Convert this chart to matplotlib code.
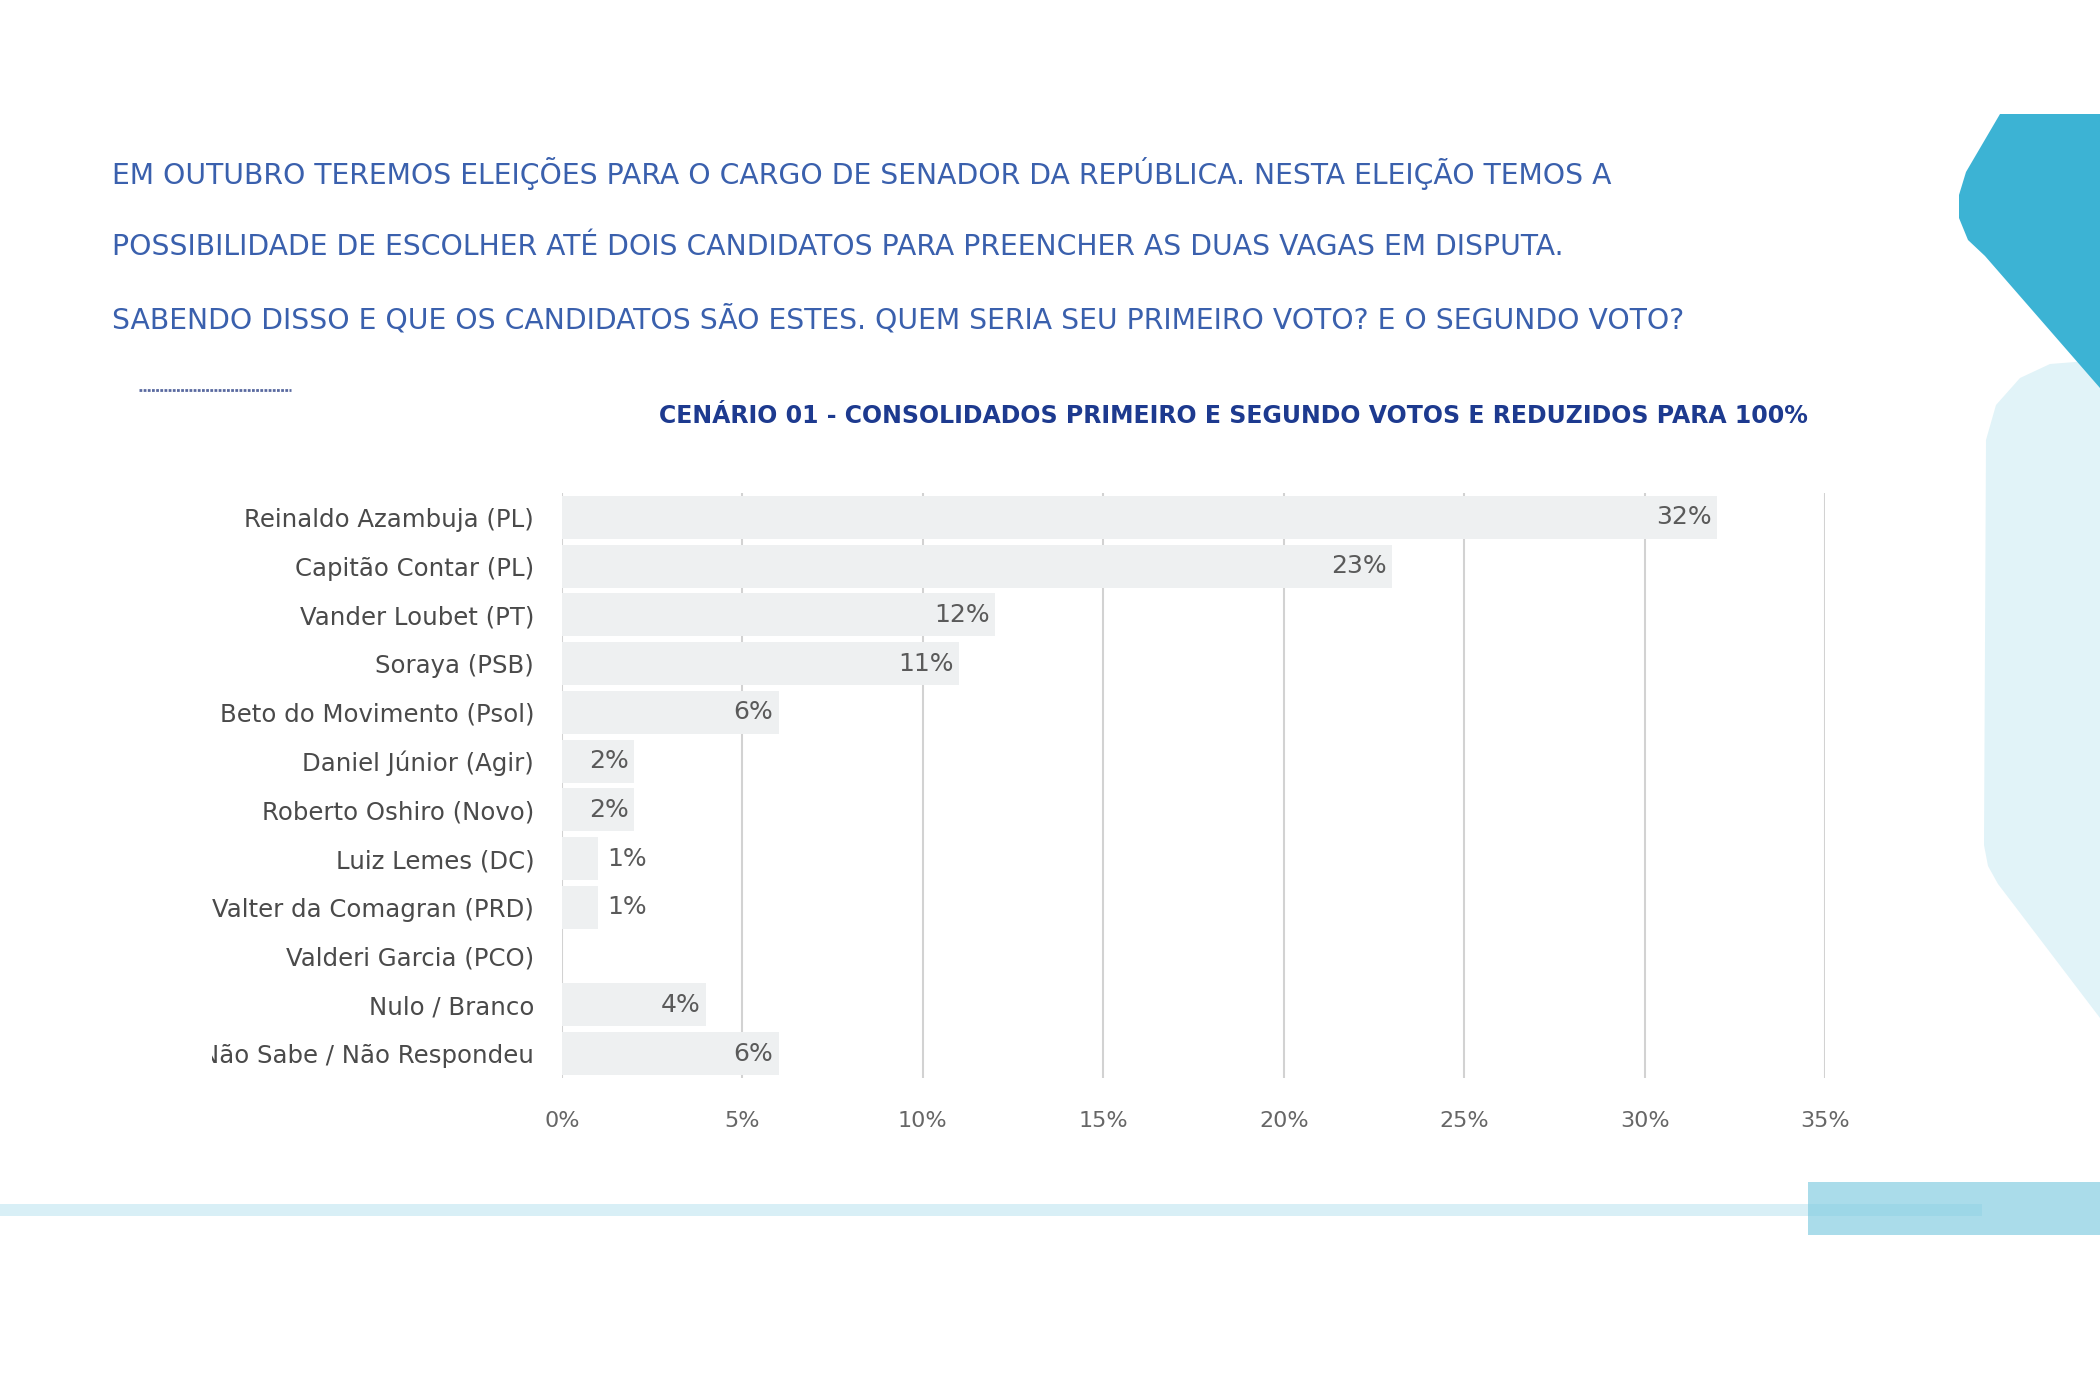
import matplotlib
matplotlib.use("Agg")
import matplotlib.pyplot as plt
from matplotlib.patches import Polygon, Rectangle
from matplotlib.transforms import Bbox, TransformedBbox

plt.rcParams["font.family"] = ["DejaVu Sans"]

# Données du graphique
candidats = [
    "Reinaldo Azambuja (PL)",
    "Capitão Contar (PL)",
    "Vander Loubet (PT)",
    "Soraya (PSB)",
    "Beto do Movimento (Psol)",
    "Daniel Júnior (Agir)",
    "Roberto Oshiro (Novo)",
    "Luiz Lemes (DC)",
    "Valter da Comagran (PRD)",
    "Valderi Garcia (PCO)",
    "Nulo / Branco",
    "Não Sabe / Não Respondeu",
]
pourcentages = [32, 23, 12, 11, 6, 2, 2, 1, 1, 0, 4, 6]
ticks_x = [0, 5, 10, 15, 20, 25, 30, 35]

W, H = 2100, 1400
fig = plt.figure(figsize=(21, 14), dpi=100)
fig.patch.set_facecolor("white")


def fx(px):
    return px / W


def fy(py):
    return 1 - py / H


# ===== Formes décoratives =====
forme_foncee = [(2000, 114), (2100, 114), (2100, 388), (1985, 256), (1968, 240),
                (1959, 218), (1959, 195), (1966, 172)]
forme_claire = [(1986, 440), (1996, 405), (2020, 378), (2050, 364), (2100, 360),
                (2100, 1018), (1998, 884), (1988, 866), (1984, 845)]
fig.patches.append(Polygon([(fx(x), fy(y)) for x, y in forme_claire], closed=True,
                           transform=fig.transFigure, facecolor="#e1f3f8", edgecolor="none"))
fig.patches.append(Polygon([(fx(x), fy(y)) for x, y in forme_foncee], closed=True,
                           transform=fig.transFigure, facecolor="#3cb3d4", edgecolor="none"))
fig.patches.append(Rectangle((fx(1808), fy(1235)), fx(292), 53 / H,
                             transform=fig.transFigure, facecolor="#aadcea", edgecolor="none"))
fig.patches.append(Rectangle((0, fy(1216)), fx(1982), 12 / H,
                             transform=fig.transFigure, facecolor="#7fcde3", alpha=0.3,
                             edgecolor="none"))

# ===== Textes =====
lignes_titre = [
    "EM OUTUBRO TEREMOS ELEIÇÕES PARA O CARGO DE SENADOR DA REPÚBLICA. NESTA ELEIÇÃO TEMOS A",
    "POSSIBILIDADE DE ESCOLHER ATÉ DOIS CANDIDATOS PARA PREENCHER AS DUAS VAGAS EM DISPUTA.",
    "SABENDO DISSO E QUE OS CANDIDATOS SÃO ESTES. QUEM SERIA SEU PRIMEIRO VOTO? E O SEGUNDO VOTO?",
]
for i, ligne in enumerate(lignes_titre):
    fig.text(fx(112), fy(174 + 73 * i), ligne, color="#3a60ad", fontsize=20.3,
             ha="left", va="center")

fig.lines.append(plt.Line2D([fx(139), fx(291)], [fy(390), fy(390)], transform=fig.transFigure,
                            color="#5a6aa0", linewidth=2, linestyle=(0, (1, 0.5))))

fig.text(fx(1808), fy(416), "CENÁRIO 01 - CONSOLIDADOS PRIMEIRO E SEGUNDO VOTOS E REDUZIDOS PARA 100%",
         color="#1d3a8f", fontsize=17, fontweight="bold", ha="right", va="center")

# ===== Graphique =====
ax = fig.add_axes([fx(562), fy(1078), fx(1825 - 562), (1078 - 493) / H])
positions = range(len(candidats))
ax.barh(positions, pourcentages, height=0.88, color="#eef0f1", zorder=2)
ax.set_ylim(len(candidats) - 0.5, -0.5)
ax.set_xlim(0, 35)

for pos, val in zip(positions, pourcentages):
    if val == 0:
        continue
    if val >= 2:
        ax.text(val - 0.15, pos, f"{val}%", ha="right", va="center",
                color="#5a5a5a", fontsize=18, zorder=3)
    else:
        ax.text(val + 0.25, pos, f"{val}%", ha="left", va="center",
                color="#5a5a5a", fontsize=18, zorder=3)

ax.set_xticks(ticks_x)
ax.set_xticklabels([f"{t}%" for t in ticks_x], color="#666666", fontsize=16)
ax.set_yticks(list(positions))
ax.set_yticklabels(candidats, color="#4a4a4a", fontsize=17.6)
ax.tick_params(axis="both", length=0)
ax.tick_params(axis="x", pad=24)
ax.tick_params(axis="y", pad=20)
ax.xaxis.grid(True, color="#d2d2d2", linewidth=1.5, zorder=1)
ax.set_axisbelow(True)
for s in ax.spines.values():
    s.set_visible(False)
ax.set_facecolor("none")

# Dernière étiquette légèrement coupée à gauche
dernier = ax.get_yticklabels()[-1]
dernier.set_clip_on(True)
dernier.set_clip_box(TransformedBbox(Bbox([[fx(212), 0], [1, 1]]), fig.transFigure))

fig.savefig("out.png", dpi=100, facecolor="white")
